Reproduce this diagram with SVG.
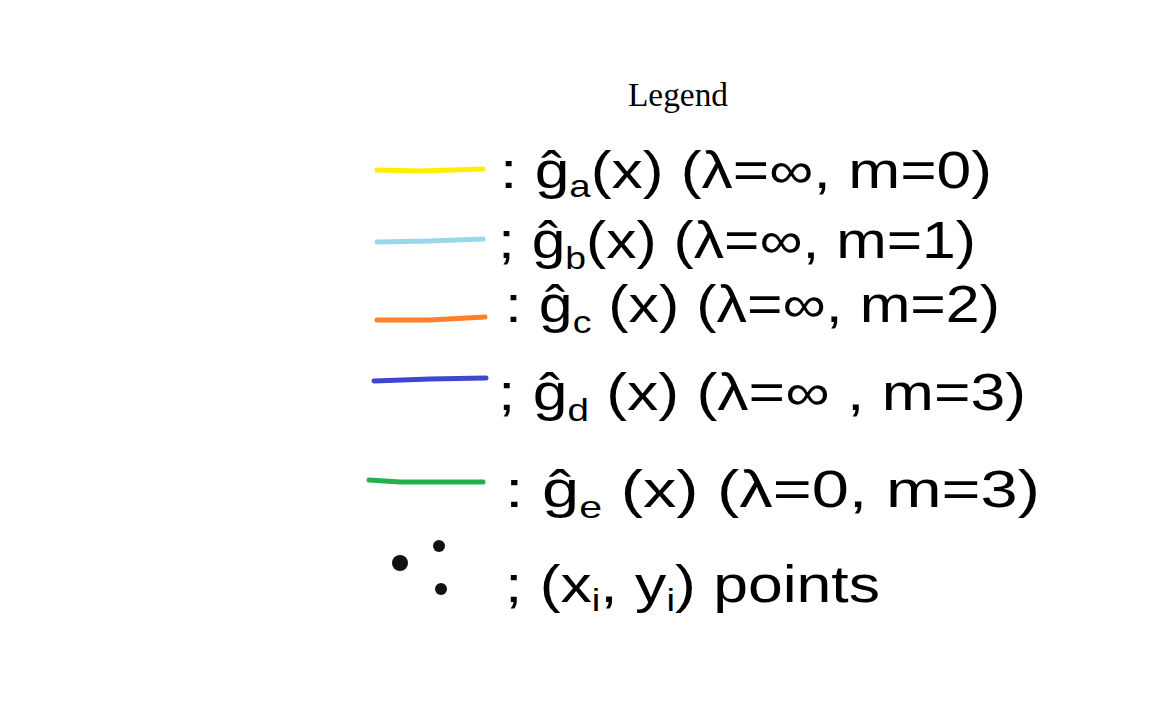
<svg xmlns="http://www.w3.org/2000/svg" width="1152" height="720" viewBox="0 0 1152 720">
<style>
.title{font-family:"Liberation Serif","Times New Roman",serif;font-size:33px;fill:#000}
.lbl{font-family:"Liberation Sans",Arial,sans-serif;font-size:52px;fill:#000}
.sub{font-size:32px}
.ln{fill:none;stroke-width:5;stroke-linecap:round}
.dot{fill:#111}
</style>
<rect width="1152" height="720" fill="#fff"/>
<text class="title" x="628" y="106" textLength="100" lengthAdjust="spacingAndGlyphs">Legend</text>
<g id="connectors">
<path class="ln" stroke="#ffee00" d="M377 170 L420 171 L483 169"/>
<path class="ln" stroke="#99d8ea" d="M377 242 L430 241 L483 239"/>
<path class="ln" stroke="#ff7f27" d="M377 320 L430 320 L485 317"/>
<path class="ln" stroke="#3f48cc" d="M374 381 L430 379 L486 378"/>
<path class="ln" stroke="#22b14c" d="M369 480 L400 482 L483 482"/>
</g>
<g id="row-a"><text class="lbl" x="500" y="188" textLength="492" lengthAdjust="spacingAndGlyphs">: ĝ<tspan class="sub" dy="9">a</tspan><tspan dy="-9">(x) (λ=∞, m=0)</tspan></text></g>
<g id="row-b"><text class="lbl" x="498" y="258" textLength="478" lengthAdjust="spacingAndGlyphs">; ĝ<tspan class="sub" dy="11">b</tspan><tspan dy="-11">(x) (λ=∞, m=1)</tspan></text></g>
<g id="row-c"><text class="lbl" x="505" y="322" textLength="495" lengthAdjust="spacingAndGlyphs">: ĝ<tspan class="sub" dy="11">c</tspan><tspan dy="-11"> (x) (λ=∞, m=2)</tspan></text></g>
<g id="row-d"><text class="lbl" x="498" y="410" textLength="528" lengthAdjust="spacingAndGlyphs">; ĝ<tspan class="sub" dy="11">d</tspan><tspan dy="-11"> (x) (λ=∞ , m=3)</tspan></text></g>
<g id="row-e"><text class="lbl" x="505" y="507" textLength="535" lengthAdjust="spacingAndGlyphs">: ĝ<tspan class="sub" dy="11">e</tspan><tspan dy="-11"> (x) (λ=0, m=3)</tspan></text></g>
<g id="row-points">
<circle class="dot" cx="400" cy="563" r="8"/>
<circle class="dot" cx="439" cy="546" r="6"/>
<circle class="dot" cx="441" cy="589" r="6"/>
<text class="lbl" x="505" y="602" textLength="375" lengthAdjust="spacingAndGlyphs">; (x<tspan class="sub" dy="9">i</tspan><tspan dy="-9">, y</tspan><tspan class="sub" dy="9">i</tspan><tspan dy="-9">) points</tspan></text>
</g>
</svg>
